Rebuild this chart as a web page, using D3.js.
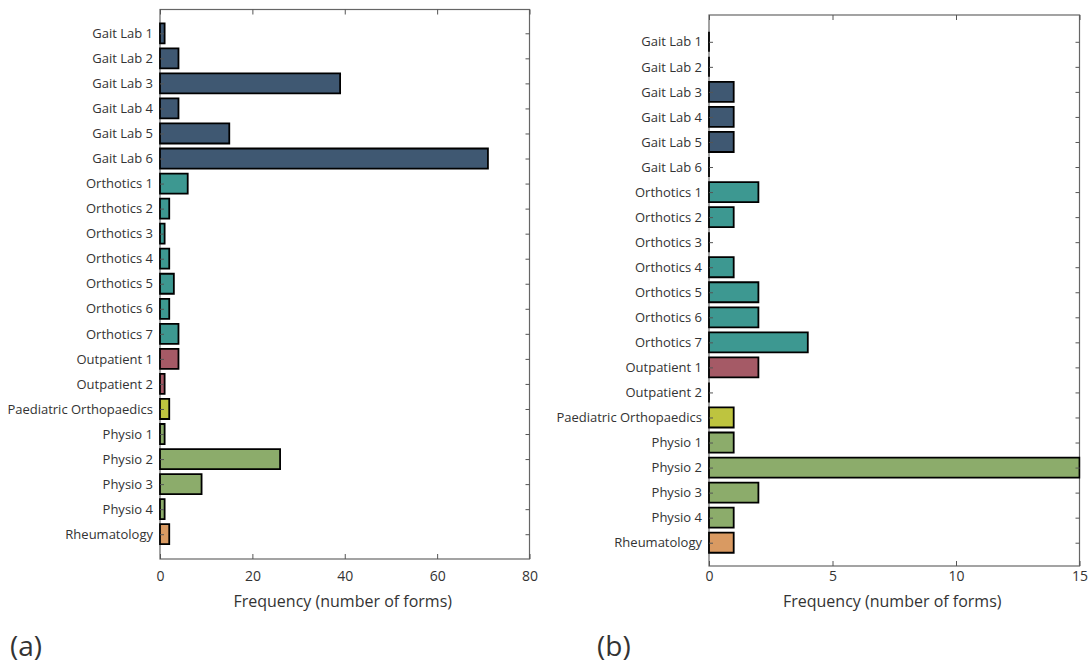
<!DOCTYPE html>
<html>
<head>
<meta charset="utf-8">
<script src="https://cdn.jsdelivr.net/npm/d3@7"></script>
<style>
  html, body { margin: 0; padding: 0; background: #fff; }
  svg { display: block; }
  text { font-family: "Open Sans", "Noto Sans", sans-serif; fill: #333; }
</style>
</head>
<body>
<svg id="chart" width="1089" height="666"></svg>
<script>
// ---------- data ----------
const categories = [
  "Gait Lab 1", "Gait Lab 2", "Gait Lab 3", "Gait Lab 4", "Gait Lab 5", "Gait Lab 6",
  "Orthotics 1", "Orthotics 2", "Orthotics 3", "Orthotics 4", "Orthotics 5", "Orthotics 6", "Orthotics 7",
  "Outpatient 1", "Outpatient 2", "Paediatric Orthopaedics",
  "Physio 1", "Physio 2", "Physio 3", "Physio 4", "Rheumatology"
];
const groupOf = ["Gait Lab", "Gait Lab", "Gait Lab", "Gait Lab", "Gait Lab", "Gait Lab",
  "Orthotics", "Orthotics", "Orthotics", "Orthotics", "Orthotics", "Orthotics", "Orthotics",
  "Outpatient", "Outpatient", "Paediatric Orthopaedics",
  "Physio", "Physio", "Physio", "Physio", "Rheumatology"];
const groups = ["Gait Lab", "Orthotics", "Outpatient", "Paediatric Orthopaedics", "Physio", "Rheumatology"];
const groupColors = ["#3f5872", "#3d9891", "#a55a66", "#bec43f", "#8cac6b", "#d99a62"];

const valuesA = [1, 4, 39, 4, 15, 71, 6, 2, 1, 2, 3, 2, 4, 4, 1, 2, 1, 26, 9, 1, 2];
const valuesB = [0, 0, 1, 1, 1, 0, 2, 1, 0, 1, 2, 2, 4, 2, 0, 1, 1, 15, 2, 1, 1];

const ticksA = [0, 20, 40, 60, 80];
const ticksB = [0, 5, 10, 15];
const xLabel = "Frequency (number of forms)";
const panelLabels = ["(a)", "(b)"];

// ---------- drawing ----------
const svg = d3.select("#chart");
const color = d3.scaleOrdinal().domain(groups).range(groupColors);

function panel(opts) {
  const { values, ticks, left, right, top, bottom, yPadTop, yPadBottom, labelPad, tag, tagX } = opts;
  const n = categories.length;
  const x = d3.scaleLinear().domain([ticks[0], ticks[ticks.length - 1]]).range([left, right]);
  const y = d3.scaleLinear().domain([-yPadTop, n - 1 + yPadBottom]).range([top, bottom]);
  const g = svg.append("g");
  const clipId = "clip-" + tag.replace(/\W/g, "");
  svg.append("clipPath").attr("id", clipId)
    .append("rect").attr("x", left - 3).attr("y", top).attr("width", right - left + 4).attr("height", bottom - top);

  // frame
  g.append("rect").attr("x", left).attr("y", top).attr("width", right - left).attr("height", bottom - top)
    .attr("fill", "none").attr("stroke", "#666").attr("stroke-width", 1.2);

  const barH = y(0.4) - y(-0.4);
  g.append("g").attr("clip-path", `url(#${clipId})`)
    .selectAll("path").data(values).join("path")
    .attr("d", (v, i) => {
      const p = d3.path();
      const x0 = x(0), x1 = x(v), y0 = y(i) - barH / 2;
      p.moveTo(x0, y0); p.lineTo(x1, y0); p.lineTo(x1, y0 + barH); p.lineTo(x0, y0 + barH); p.closePath();
      return p.toString();
    })
    .attr("fill", (v, i) => color(groupOf[i]))
    .attr("stroke", "#000")
    .attr("stroke-width", 1.8)
    .attr("stroke-linejoin", "miter");

  const idx = d3.range(n);
  const tickCol = "#555";
  const ax = g.append("g").attr("transform", `translate(0,${bottom})`)
    .call(d3.axisBottom(x).tickValues(ticks).tickSize(-5).tickPadding(labelPad).tickFormat(d3.format("d")));
  const at = g.append("g").attr("transform", `translate(0,${top})`)
    .call(d3.axisTop(x).tickValues(ticks).tickSize(-5).tickFormat(""));
  const al = g.append("g").attr("transform", `translate(${left},0)`)
    .call(d3.axisLeft(y).tickValues(idx).tickSize(-4).tickPadding(7).tickFormat(i => categories[i]));
  const ar = g.append("g").attr("transform", `translate(${right},0)`)
    .call(d3.axisRight(y).tickValues(idx).tickSize(-4).tickFormat(""));
  [ax, at, al, ar].forEach(a => {
    a.select(".domain").remove();
    a.selectAll(".tick line").attr("stroke", tickCol).attr("stroke-width", 1);
    a.selectAll(".tick text").style("font-size", "13px").attr("fill", "#333");
  });
  ax.selectAll(".tick text").style("font-size", "14px");

  g.append("text").attr("x", (left + right) / 2 - 2).attr("y", 607)
    .attr("text-anchor", "middle").style("font-size", "16px").text(xLabel);
  g.append("text").attr("x", tagX).attr("y", 656)
    .style("font-size", "28px").text(tag);
}

panel({ values: valuesA, ticks: ticksA, left: 160, right: 529.5, top: 9.5, bottom: 559,
        yPadTop: 0.95, yPadBottom: 0.99, labelPad: 12, tag: panelLabels[0], tagX: 10 });
panel({ values: valuesB, ticks: ticksB, left: 709, right: 1079.5, top: 15, bottom: 566,
        yPadTop: 1.07, yPadBottom: 0.93, labelPad: 5, tag: panelLabels[1], tagX: 597 });
</script>
</body>
</html>
